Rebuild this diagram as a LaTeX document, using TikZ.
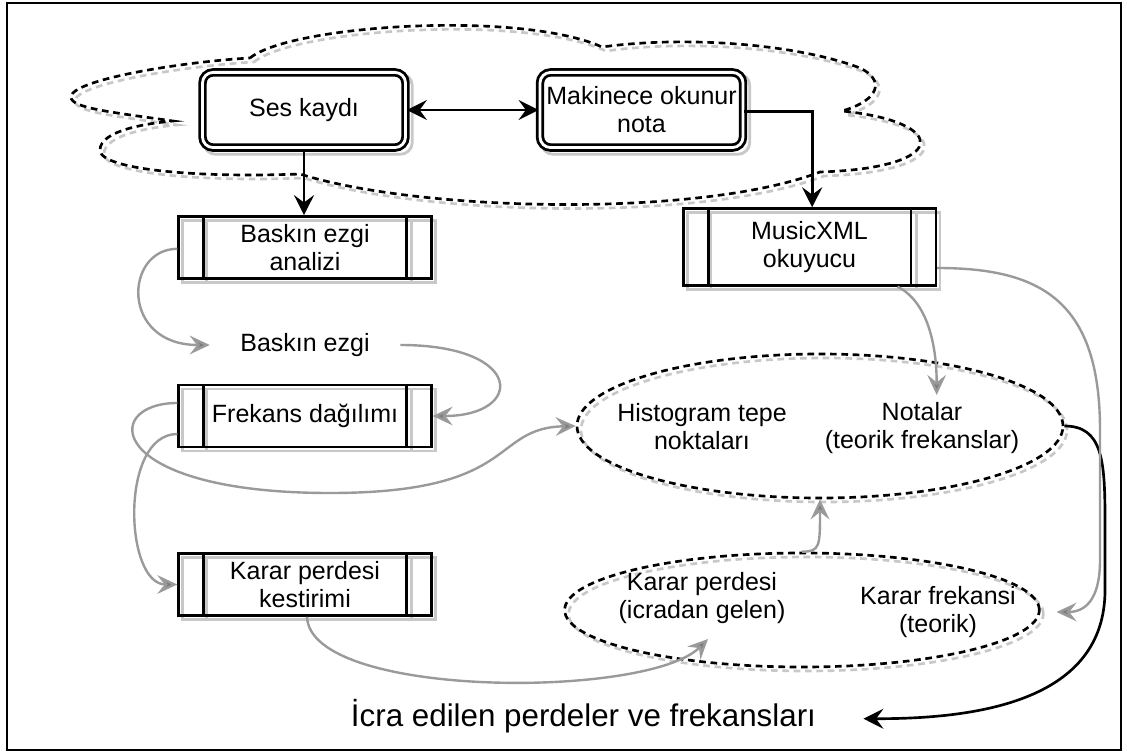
\documentclass[tikz,border=0pt]{standalone}
\usepackage{fontspec}
\setmainfont{Liberation Sans}
\usetikzlibrary{arrows.meta,shapes.geometric}
\definecolor{lnkgray}{HTML}{9A9A9A}
\definecolor{shdgray}{HTML}{C8C8C8}
\pgfdeclarelayer{bg}
\pgfsetlayers{bg,main}
\tikzset{
  txt/.style={font=\fontsize{18.75}{21}\selectfont,align=center},
  dblbox/.style={txt,draw,line width=2.1pt,double,double distance=2.1pt,rounded corners=8pt,minimum width=152.3pt,minimum height=56.4pt},
  procbox/.style={txt,draw,line width=2pt,minimum width=189.5pt,inner sep=1pt,
    path picture={
      \draw[line width=2pt] ([xshift=18.75pt]path picture bounding box.north west) -- ([xshift=18.75pt]path picture bounding box.south west);
      \draw[line width=2pt] ([xshift=-18.75pt]path picture bounding box.north east) -- ([xshift=-18.75pt]path picture bounding box.south east);}},
  ellbox/.style={ellipse,draw,line width=2pt,dash pattern=on 5pt off 3.5pt},
  cloudline/.style={draw,line width=2pt,dash pattern=on 5pt off 3.5pt},
  shdline/.style={draw=shdgray,line width=2pt},
  blk/.style={line width=2pt,-{Stealth[length=15pt,width=15pt,inset=5.5pt]}},
  gry/.style={draw=lnkgray,line width=1.8pt,-{Stealth[length=15pt,width=14pt,inset=5.5pt,fill=lnkgray!80!black]}}
}
\def\kcloud{(250,58) .. controls (290,25) and (520,10) .. (602,47)
  .. controls (690,35) and (800,45) .. (860,68) .. controls (885,80) and (880,100) .. (842,111)
  .. controls (950,122) and (950,168) .. (820,172)
  .. controls (700,218) and (420,212) .. (300,174)
  .. controls (200,178) and (100,170) .. (100,150) .. controls (100,130) and (150,123) .. (173,121)
  .. controls (110,112) and (71,108) .. (71,97) .. controls (71,80) and (180,62) .. (250,58)}
\begin{document}
\begin{tikzpicture}[x=0.75pt,y=-0.75pt]
\pgfmathsetmacro{\kbx}{305}
\pgfmathsetmacro{\ksx}{4}
\useasboundingbox (0,0) rectangle (1127,755);
\draw[line width=1.3pt] (7,3) rectangle (1121,750);
\node[dblbox] (ses) at (304,110) {Ses kaydı};
\node[dblbox] (mak) at (641.5,110) {Makinece okunur\\nota};
\foreach \nm/\ky/\klb in {bea/247.5/{Baskın ezgi\\analizi},frq/416/{Frekans dağılımı},kpk/584.5/{Karar perdesi\\kestirimi}}{\node[procbox,minimum height=46.5pt] (\nm) at (\kbx,\ky) {\klb};}
\node[procbox,minimum height=57.5pt] (mxr) at (809.5,247) {MusicXML\\okuyucu};
\node[txt,minimum width=142.5pt] (bez) at (305,345) {Baskın ezgi};
\node[ellbox,minimum width=364.5pt,minimum height=108pt] (notell) at (820,426) {};
\node[txt] (hst) at (702,427) {Histogram tepe\\noktaları};
\node[txt] (ntl) at (922,428) {Notalar\\(teorik frekanslar)};
\node[ellbox,minimum width=356pt,minimum height=85.5pt] (kpell) at (802,610) {};
\node[txt] (kpt) at (702,598) {Karar perdesi\\(icradan gelen)};
\node[txt] (kfr) at (938,612) {Karar frekansi\\(teorik)};
\node[font=\fontsize{23.5}{28}\selectfont] (icra) at (583.5,716) {İcra edilen perdeler ve frekansları};
% golgeler
\begin{pgfonlayer}{bg}
\draw[cloudline,draw=shdgray,shift={(\ksx,\ksx)}] \kcloud;
\foreach \nm in {bea,frq,kpk,mxr}{
  \draw[shdline] ([shift={(4pt,-4pt)}]\nm.north west) rectangle ([shift={(2pt,-2pt)}]\nm.south east);
  \draw[shdline] ([shift={(21.75pt,-4pt)}]\nm.north west) -- ([shift={(21.75pt,-2pt)}]\nm.south west);
  \draw[shdline] ([shift={(-15.75pt,-4pt)}]\nm.north east) -- ([shift={(-15.75pt,-2pt)}]\nm.south east);}
\foreach \nm in {ses,mak}{\draw[shdline,line width=2.1pt,rounded corners=9pt] ([shift={(2pt,-2pt)}]\nm.north west) rectangle ([shift={(4pt,-4pt)}]\nm.south east);}
\draw[shdline,dash pattern=on 5pt off 3.5pt] ([shift={(3pt,-3pt)}]notell.center) ellipse [x radius=182.25pt,y radius=54pt];
\draw[shdline,dash pattern=on 5pt off 3.5pt] ([shift={(3pt,-3pt)}]kpell.center) ellipse [x radius=178pt,y radius=42.75pt];
\end{pgfonlayer}
% bulut
\draw[cloudline] \kcloud;
% siyah baglantilar
\draw[blk,{Stealth[length=15pt,width=15pt,inset=5.5pt]}-{Stealth[length=15pt,width=15pt,inset=5.5pt]}] (ses.east) -- (mak.west);
\draw[blk] (ses.south) -- (ses.south |- bea.north);
\draw[blk] ([yshift=-1pt]mak.east) -| ([xshift=2pt]mxr.north);
\draw[blk] (notell.east) .. controls +(38,0) and (1105,460) .. (1105,520) -- (1105,590)
  .. controls (1105,700) and (980,719) .. ([xshift=32pt,yshift=-2pt]icra.east);
% gri baglantilar
\draw[gry] ([yshift=-1pt]bea.west) .. controls +(-53,0) and +(-90,0) .. (bez.west);
\draw[gry] (bez.east) .. controls +(125,0) and +(92,0) .. (frq.east);
\draw[gry] ([yshift=9.75pt]frq.west) .. controls (100,403) and (105,493) .. (330,493)
  .. controls (520,493) and (490,428) .. (notell.west);
\draw[gry] ([yshift=-13.5pt]frq.west) .. controls +(-58,0) and +(-53,0) .. (kpk.west);
\draw[gry] ([xshift=1.5pt]kpk.south) .. controls +(3,82) and +(-60,60) .. ([shift={(4.5pt,-8pt)}]kpt.south);
\draw[gry] (kpell.north) .. controls +(18,0) and +(0,47) .. (notell.south);
\draw[gry] ([xshift=66pt]mxr.south) .. controls +(30,15) and +(0,-50) .. ([xshift=11pt,yshift=2pt]ntl.north);
\draw[gry] ([yshift=-15.75pt]mxr.east) .. controls (1040,268) and (1100,300) .. (1100,430) -- (1100,560)
  .. controls (1100,600) and (1085,612) .. ([xshift=27pt]kfr.east);
\end{tikzpicture}
\end{document}
